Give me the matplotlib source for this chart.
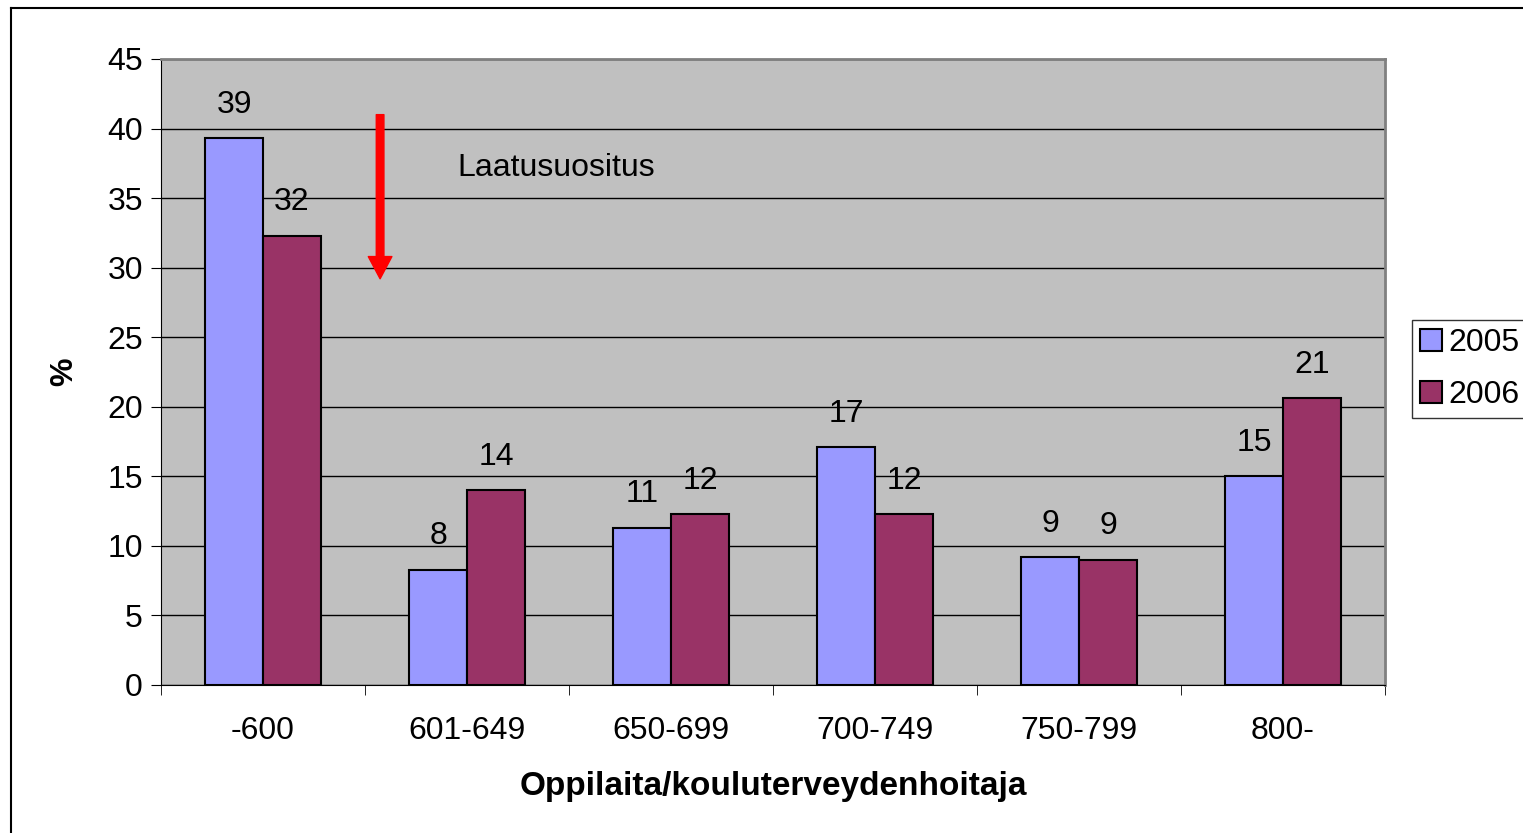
import numpy as np
import matplotlib.pyplot as plt
from matplotlib.lines import Line2D

# data
categories = ['-600', '601-649', '650-699', '700-749', '750-799', '800-']
values_2005 = [39.3, 8.3, 11.3, 17.1, 9.2, 15.0]
values_2006 = [32.3, 14.0, 12.3, 12.3, 9.0, 20.6]
series_names = ['2005', '2006']
yticks = [0, 5, 10, 15, 20, 25, 30, 35, 40, 45]

plt.rcParams['font.family'] = ['Liberation Sans', 'DejaVu Sans']
fs = 23

fig = plt.figure(figsize=(15.23, 8.33), dpi=100)
ax = fig.add_axes([161 / 1523, 1 - 685 / 833, 1224 / 1523, 626 / 833])
ax.set_facecolor('#C0C0C0')

x = np.arange(len(categories))
w = 0.284
b1 = ax.bar(x - w / 2, values_2005, w, color='#9999FF', edgecolor='black', linewidth=1.5,
            label=series_names[0], zorder=3)
b2 = ax.bar(x + w / 2, values_2006, w, color='#993366', edgecolor='black', linewidth=1.5,
            label=series_names[1], zorder=3)

# value labels
for bars in (b1, b2):
    for rect in bars:
        h = rect.get_height()
        ax.annotate(f'{h:.0f}', (rect.get_x() + rect.get_width() / 2, h),
                    xytext=(0, 24), textcoords='offset points', ha='center', va='center',
                    fontsize=fs)

ax.set_xlim(-0.5, len(categories) - 0.5)
ax.set_ylim(0, 45)
ax.set_yticks(yticks)
ax.tick_params(axis='y', labelsize=fs, length=7, direction='out', pad=6)
ax.set_xticks(x)
ax.set_xticklabels(categories)
ax.tick_params(axis='x', which='major', length=0, labelsize=fs, pad=22)
ax.set_xticks(np.arange(-0.5, len(categories)), minor=True)
ax.tick_params(axis='x', which='minor', length=7, direction='out')

ax.yaxis.grid(True, color='black', linewidth=1)
ax.set_axisbelow(True)
for s in ('top', 'right'):
    ax.spines[s].set_color('#808080')
    ax.spines[s].set_linewidth(2)
for s in ('left', 'bottom'):
    ax.spines[s].set_color('black')

ax.set_ylabel('%', fontsize=fs, fontweight='bold', labelpad=20)
ax.set_xlabel('Oppilaita/kouluterveydenhoitaja', fontsize=24, fontweight='bold', labelpad=18)

# quality recommendation arrow
ax.annotate('', xy=(0.574, 29.2), xytext=(0.574, 41.0),
            arrowprops=dict(width=5.5, headwidth=17, headlength=16, color='red',
                            shrink=0))
ax.text(0.955, 37.2, 'Laatusuositus', fontsize=fs, va='center', ha='left')

leg = fig.legend(handles=[b1, b2], loc='upper left', bbox_to_anchor=(1412 / 1523, 1 - 320 / 833),
                 fontsize=fs, frameon=True, fancybox=False, edgecolor='black',
                 handlelength=0.7, handleheight=0.7, handletextpad=0.2, borderpad=0.25,
                 labelspacing=0.7, borderaxespad=0)
leg.get_frame().set_linewidth(1)

# outer chart border (left and top visible)
fig.add_artist(Line2D([11 / 1523, 11 / 1523], [0, 1 - 8 / 833], color='black', lw=1.5))
fig.add_artist(Line2D([11 / 1523, 1], [1 - 8 / 833, 1 - 8 / 833], color='black', lw=1.5))

fig.savefig('out.png', dpi=100)
